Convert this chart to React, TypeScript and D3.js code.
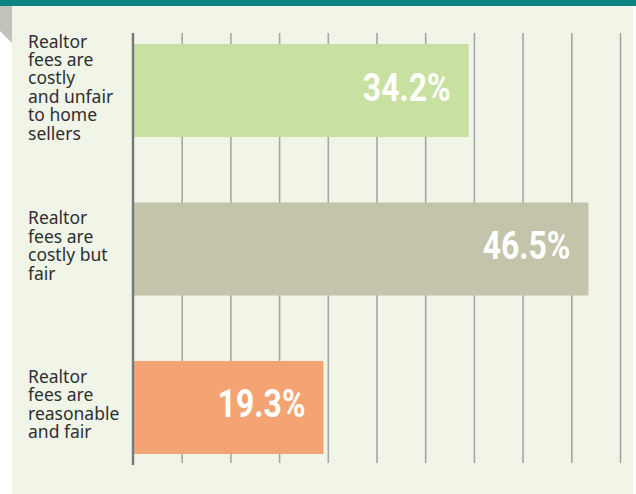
import React from "react";
import * as d3 from "d3";

const categoryLines: string[][] = [
  ["Realtor", "fees are", "costly", "and unfair", "to home", "sellers"],
  ["Realtor", "fees are", "costly but", "fair"],
  ["Realtor", "fees are", "reasonable", "and fair"],
];
const values: number[] = [34.2, 46.5, 19.3];
const valueLabels: string[] = ["34.2%", "46.5%", "19.3%"];
const barColors: string[] = ["#c8e0a0", "#c4c4aa", "#f4a473"];
const gridTicks: number[] = [5, 10, 15, 20, 25, 30, 35, 40, 45, 50];

const W = 636;
const H = 494;

export default function App() {
  const x = d3.scaleLinear().domain([0, 50]).range([133.5, 620.5]);
  const y = d3
    .scaleBand<number>()
    .domain(values.map((_, i) => i))
    .range([44, 454])
    .paddingInner(0.413)
    .paddingOuter(0);
  const bw = y.bandwidth();
  const lineH = 18.4;

  return (
    <svg
      width={W}
      height={H}
      style={{ position: "absolute", left: 0, top: 0, display: "block" }}
    >
      <rect x={0} y={0} width={W} height={H} fill="#ffffff" />
      <rect x={12} y={6} width={621} height={H - 6} fill="#f0f5e7" />
      <polygon points="0,6 12,6 12,43 0,31" fill="#c2c2bc" />
      <rect x={0} y={0} width={W} height={6} fill="#0b847f" />

      {gridTicks.map((t) => (
        <line
          key={t}
          x1={x(t)}
          x2={x(t)}
          y1={33}
          y2={463}
          stroke="#a6a6a6"
          strokeWidth={1.6}
        />
      ))}

      {values.map((v, i) => (
        <rect
          key={i}
          x={x(0)}
          y={y(i)!}
          width={x(v) - x(0) + 2}
          height={bw}
          fill={barColors[i]}
        />
      ))}

      <line
        x1={x(0) - 0.5}
        x2={x(0) - 0.5}
        y1={33}
        y2={465}
        stroke="#777777"
        strokeWidth={2.4}
      />

      {values.map((v, i) => (
        <text
          key={i}
          transform={`translate(${x(v) - 16},${y(i)! + bw / 2 + 10}) scale(0.84,1)`}
          textAnchor="end"
          fill="#ffffff"
          fontFamily="Roboto, sans-serif"
          fontWeight="bold"
          fontSize={38}
        >
          {valueLabels[i]}
        </text>
      ))}

      {categoryLines.map((lines, i) => {
        const cy = y(i)! + bw / 2 - 3;
        const top = cy - ((lines.length - 1) * lineH) / 2;
        return (
          <text
            key={i}
            x={28}
            fill="#2f2f2f"
            fontFamily="'Noto Sans', sans-serif"
            fontSize={17.5}
          >
            {lines.map((ln, j) => (
              <tspan key={j} x={28} y={top + j * lineH + 6}>
                {ln}
              </tspan>
            ))}
          </text>
        );
      })}
    </svg>
  );
}
